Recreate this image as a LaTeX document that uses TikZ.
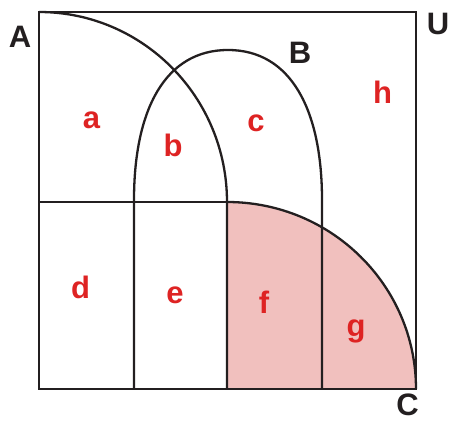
\documentclass[tikz,border=0pt]{standalone}
\usepackage{fontspec}
\setmainfont{Liberation Sans}
\definecolor{linecol}{RGB}{35,31,32}
\definecolor{pinkfill}{RGB}{241,192,190}
\definecolor{labred}{RGB}{222,35,35}
\begin{document}
\begin{tikzpicture}[x=1pt,y=1pt,
  setline/.style={draw=linecol,line width=2.3pt},
  frameline/.style={draw=linecol,line width=2.6pt},
  regionlab/.style={text=labred,font=\fontsize{31}{31}\selectfont\bfseries,anchor=base,inner sep=0pt},
  setlab/.style={text=linecol,font=\fontsize{31}{31}\selectfont\bfseries,anchor=base,inner sep=0pt}]
\useasboundingbox (0,0) rectangle (450,423);
% shaded region (C outside A)
\fill[pinkfill] (227,34) -- (227,221) arc[start angle=90,end angle=0,x radius=189,y radius=187] -- cycle;
% universe
\draw[frameline] (39,34) rectangle (416,411);
% set A
\draw[setline] (39,411) arc[start angle=90,end angle=0,x radius=188,y radius=190] -- (227,34);
\draw[setline] (39,221) -- (227,221);
% set C
\draw[setline] (227,221) arc[start angle=90,end angle=0,x radius=189,y radius=187];
% set B
\draw[setline] (134,34) -- (134,223) .. controls (134,313) and (165,373) .. (228,373)
  .. controls (291,373) and (322,313) .. (322,223) -- (322,34);
% set labels
\node[setlab] (labA) at (20,375) {A};
\node[setlab] (labB) at (300,359) {B};
\node[setlab] (labU) at (438,388) {U};
\node[setlab] (labC) at (407.5,7) {C};
% region labels
\node[regionlab] (ra) at (91.5,294) {a};
\node[regionlab] (rb) at (173,266) {b};
\node[regionlab] (rc) at (256,291) {c};
\node[regionlab] (rh) at (382.5,319) {h};
\node[regionlab] (rd) at (80.5,124) {d};
\node[regionlab] (re) at (175,119) {e};
\node[regionlab] (rf) at (264,109) {f};
\node[regionlab] (rg) at (356,86) {g};
\end{tikzpicture}
\end{document}
